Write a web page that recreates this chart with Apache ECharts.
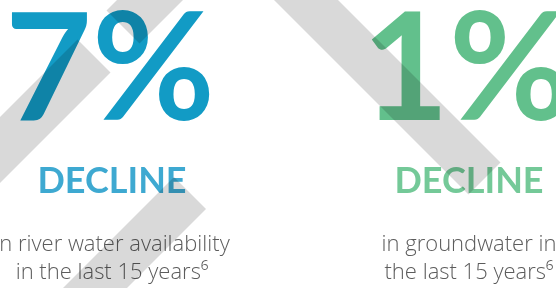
<!DOCTYPE html>
<html>
<head>
<meta charset="utf-8">
<script src="https://cdn.jsdelivr.net/npm/echarts@6/dist/echarts.min.js"></script>
<style>
  html, body { margin: 0; padding: 0; background: #fff; }
  #chart { width: 556px; height: 288px; }
</style>
</head>
<body>
<div id="chart"></div>
<script>
// figures shown in each column
const figures = ['7%', '1%'];
const headings = ['DECLINE', 'DECLINE'];
const lineOne = ['in river water availability', 'in groundwater in'];
const lineTwo = ['in the last 15 years\u2076', 'the last 15 years\u2076'];
const figureColors = ['#129bc5', '#62c08c'];
const headingColors = ['#3ea9d1', '#74c998'];

const colX = [110, 467];
const headFont = 'Lato, "Noto Sans", sans-serif';
const bodyFont = '"Open Sans", "Noto Sans", sans-serif';
const shade = 'rgba(0,0,0,0.15)';

// diagonal bands laid over the text (darken what they cross)
const bands = [
    [[106.5, 10.5], [139.5, 43.5], [203, -20], [137, -20]],
    [[77.5, 39.5], [110.5, 72.5], [-30, 213], [-30, 147]],
    [[174, 177], [206, 209], [95, 320], [31, 320]],
    [[254, -20], [318, -20], [500.5, 162.5], [468.5, 194.5]]
];

const elements = [];
figures.forEach(function (fig, i) {
    elements.push({
        type: 'text', x: colX[i], y: 72, z: 1,
        style: {
            text: fig, fill: figureColors[i], align: 'center', verticalAlign: 'middle',
            font: 'bold 150px ' + headFont
        }
    });
    elements.push({
        type: 'text', x: colX[i] + 2, y: 181, z: 1,
        style: {
            text: headings[i], fill: headingColors[i], align: 'center', verticalAlign: 'middle',
            font: 'bold 36px ' + headFont
        }
    });
    elements.push({
        type: 'text', x: colX[i] + 2, y: 245, z: 1,
        style: {
            text: lineOne[i], fill: '#5c5c5c', align: 'center', verticalAlign: 'middle',
            font: '300 22px ' + bodyFont
        }
    });
    elements.push({
        type: 'text', x: colX[i] + 2, y: 273, z: 1,
        style: {
            text: lineTwo[i], fill: '#5c5c5c', align: 'center', verticalAlign: 'middle',
            font: '300 22px ' + bodyFont
        }
    });
});

bands.forEach(function (pts) {
    elements.push({
        type: 'polygon', z: 5,
        shape: { points: pts },
        style: { fill: shade }
    });
});

const chart = echarts.init(document.getElementById('chart'));
chart.setOption({
    backgroundColor: '#fff',
    animation: false,
    graphic: { elements: elements }
});
</script>
</body>
</html>
